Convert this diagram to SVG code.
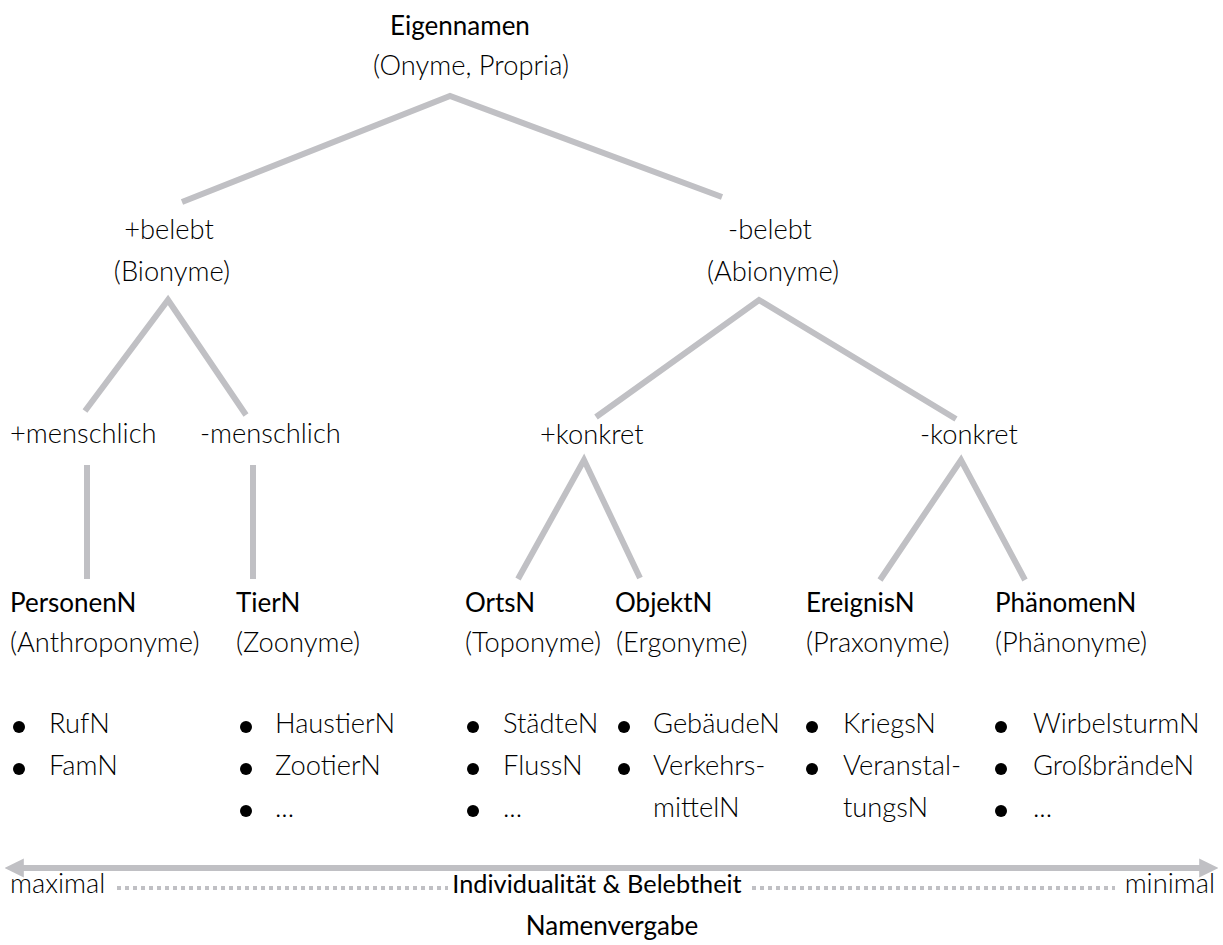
<svg xmlns="http://www.w3.org/2000/svg" width="1223" height="945" viewBox="0 0 1223 945">
<style>
text{font-family:Lato,"Open Sans","Liberation Sans",sans-serif;font-size:27.3px;fill:#000;font-weight:300}
.b{font-weight:400;font-size:26px;fill:#000}
.m{text-anchor:middle}
.c{stroke:#c0c0c4;stroke-width:6;fill:none}
.d{fill:#000}
.dot{stroke:#c0c0c4;stroke-width:4;stroke-dasharray:4 4;fill:none}
</style>
<defs>
<marker id="ah" viewBox="0 0 10 10" refX="2" refY="5" markerWidth="3.2" markerHeight="3.2" orient="auto-start-reverse" markerUnits="strokeWidth">
<path d="M0,0 L10,5 L0,10 z" fill="#c0c0c4"/>
</marker>
</defs>
<g id="connectors">
<polyline class="c" points="182,202 450,96 722,197"/>
<polyline class="c" points="85,411 168,300 246,415"/>
<polyline class="c" points="596,417 759,300 956,419"/>
<line class="c" x1="87" y1="465" x2="87" y2="579"/>
<line class="c" x1="253" y1="465" x2="253" y2="579"/>
<polyline class="c" points="518,579 584,460 640,578"/>
<polyline class="c" points="880,580 961,460 1025,580"/>
</g>
<g id="n-root"><text class="b m" x="460" y="35">Eigennamen</text><text class="m" x="471" y="75">(Onyme, Propria)</text></g>
<g id="n-belebt"><text class="m" x="169" y="239">+belebt</text><text class="m" x="172" y="281">(Bionyme)</text></g>
<g id="n-unbelebt"><text class="m" x="770" y="239">-belebt</text><text class="m" x="773" y="281">(Abionyme)</text></g>
<g id="n-menschlich"><text x="10" y="443">+menschlich</text></g>
<g id="n-nichtmenschlich"><text x="200" y="443">-menschlich</text></g>
<g id="n-konkret"><text x="540" y="444">+konkret</text></g>
<g id="n-abstrakt"><text x="920" y="444">-konkret</text></g>
<g id="n-personen">
<text class="b" x="10" y="612">PersonenN</text><text x="10" y="652">(Anthroponyme)</text>
<circle class="d" cx="19" cy="727" r="6"/><text x="49" y="733">RufN</text>
<circle class="d" cx="19" cy="769" r="6"/><text x="49" y="775">FamN</text>
</g>
<g id="n-tier">
<text class="b" x="236" y="612">TierN</text><text x="236" y="652">(Zoonyme)</text>
<circle class="d" cx="246" cy="727" r="6"/><text x="275" y="733">HaustierN</text>
<circle class="d" cx="246" cy="769" r="6"/><text x="275" y="775">ZootierN</text>
<circle class="d" cx="246" cy="811" r="6"/><text x="275" y="817">...</text>
</g>
<g id="n-orts">
<text class="b" x="465" y="612">OrtsN</text><text x="465" y="652">(Toponyme)</text>
<circle class="d" cx="473" cy="727" r="6"/><text x="503" y="733">StädteN</text>
<circle class="d" cx="473" cy="769" r="6"/><text x="503" y="775">FlussN</text>
<circle class="d" cx="473" cy="811" r="6"/><text x="503" y="817">...</text>
</g>
<g id="n-objekt">
<text class="b" x="615" y="612">ObjektN</text><text x="616" y="652">(Ergonyme)</text>
<circle class="d" cx="624" cy="727" r="6"/><text x="653" y="733">GebäudeN</text>
<circle class="d" cx="624" cy="769" r="6"/><text x="653" y="775">Verkehrs-</text>
<text x="653" y="817">mittelN</text>
</g>
<g id="n-ereignis">
<text class="b" x="806" y="612">EreignisN</text><text x="806" y="652">(Praxonyme)</text>
<circle class="d" cx="812" cy="727" r="6"/><text x="843" y="733">KriegsN</text>
<circle class="d" cx="812" cy="769" r="6"/><text x="843" y="775">Veranstal-</text>
<text x="843" y="817">tungsN</text>
</g>
<g id="n-phaenomen">
<text class="b" x="995" y="612">PhänomenN</text><text x="995" y="652">(Phänonyme)</text>
<circle class="d" cx="1001" cy="727" r="6"/><text x="1033" y="733">WirbelsturmN</text>
<circle class="d" cx="1001" cy="769" r="6"/><text x="1033" y="775">GroßbrändeN</text>
<circle class="d" cx="1001" cy="811" r="6"/><text x="1033" y="817">...</text>
</g>
<g id="scale">
<line class="c" x1="20" y1="868" x2="1203" y2="868" marker-start="url(#ah)" marker-end="url(#ah)"/>
<text x="10" y="893">maximal</text>
<line class="dot" x1="117" y1="888" x2="448" y2="888"/>
<text class="b m" x="597" y="893" style="font-size:25.3px">Individualität &amp; Belebtheit</text>
<line class="dot" x1="752" y1="888" x2="1115" y2="888"/>
<text x="1215" y="893" style="text-anchor:end">minimal</text>
<text class="b m" x="612" y="935">Namenvergabe</text>
</g>
</svg>
